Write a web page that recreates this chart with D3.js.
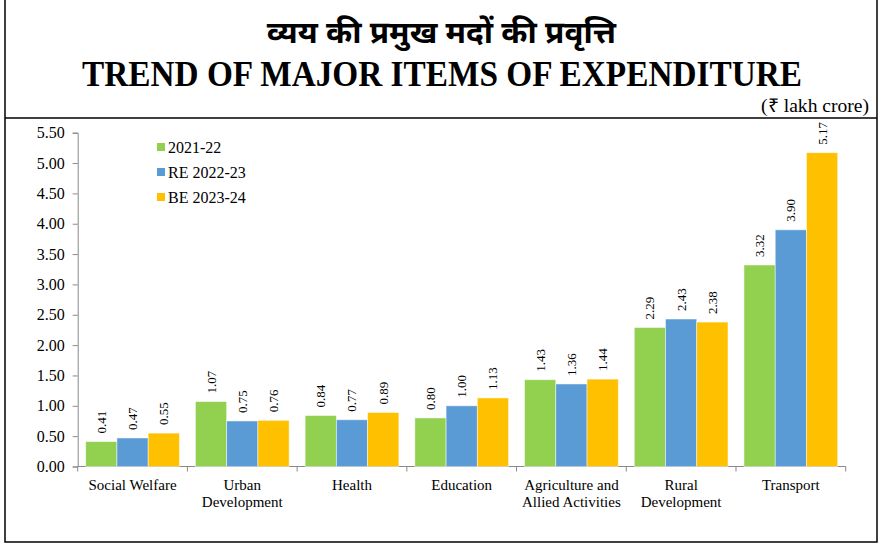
<!DOCTYPE html>
<html lang="en">
<head>
    <meta charset="UTF-8">
    <title>Trend of Major Items of Expenditure</title>
    <script src="https://d3js.org/d3.v7.min.js"></script>
    <style>
        body { margin: 0; background: #fff; }
        text { font-family: "Liberation Serif", "Times New Roman", serif; fill: #000; }
    </style>
</head>
<body>
    <div id="chart"></div>
    <script>
        // data
        const categories = [
            ['Social Welfare'],
            ['Urban', 'Development'],
            ['Health'],
            ['Education'],
            ['Agriculture and', 'Allied Activities'],
            ['Rural', 'Development'],
            ['Transport']
        ];
        const seriesNames = ['2021-22', 'RE 2022-23', 'BE 2023-24'];
        const values2021 = [0.41, 1.07, 0.84, 0.80, 1.43, 2.29, 3.32];
        const valuesRE2022 = [0.47, 0.75, 0.77, 1.00, 1.36, 2.43, 3.90];
        const valuesBE2023 = [0.55, 0.76, 0.89, 1.13, 1.44, 2.38, 5.17];
        const yTicks = [0, 0.5, 1, 1.5, 2, 2.5, 3, 3.5, 4, 4.5, 5, 5.5];
        const colors = ['#92D050', '#5B9BD5', '#FFC000'];

        const allSeries = [values2021, valuesRE2022, valuesBE2023];
        const catKeys = categories.map(c => c.join(' '));

        const width = 885, height = 549;
        const svg = d3.select('#chart').append('svg')
            .attr('width', width)
            .attr('height', height);

        // frame
        svg.append('rect')
            .attr('x', 5).attr('y', -2)
            .attr('width', 872).attr('height', 544)
            .attr('fill', 'none').attr('stroke', '#000').attr('stroke-width', 1.5);
        svg.append('line')
            .attr('x1', 5).attr('x2', 877).attr('y1', 118).attr('y2', 118)
            .attr('stroke', '#000').attr('stroke-width', 1.5);

        // titles
        svg.append('text')
            .attr('x', 267).attr('y', 43)
            .attr('textLength', 349)
            .attr('lengthAdjust', 'spacingAndGlyphs')
            .style('font-family', '"Noto Sans Devanagari", "Noto Sans", "Lohit Devanagari", sans-serif')
            .style('font-weight', 'bold')
            .style('font-size', '31px')
            .text('व्यय की प्रमुख मदों की प्रवृत्ति');
        svg.append('text')
            .attr('x', 82).attr('y', 86)
            .attr('textLength', 720)
            .attr('lengthAdjust', 'spacingAndGlyphs')
            .style('font-weight', 'bold')
            .style('font-size', '35px')
            .text('TREND OF MAJOR ITEMS OF EXPENDITURE');
        svg.append('text')
            .attr('x', 761).attr('y', 112)
            .attr('textLength', 108)
            .attr('lengthAdjust', 'spacingAndGlyphs')
            .style('font-size', '19px')
            .text('(₹ lakh crore)');

        const margin = { left: 77.7, right: 845.7, top: 132.7, bottom: 466.5 };

        const y = d3.scaleLinear().domain([0, 5.5]).range([margin.bottom, margin.top]);
        const x0 = d3.scaleBand().domain(catKeys).range([margin.left, margin.right]).padding(0);
        const x1 = d3.scaleBand().domain(seriesNames).range([8, x0.bandwidth() - 8]).padding(0);

        // y axis
        const yAxis = svg.append('g')
            .attr('transform', `translate(${margin.left},0)`)
            .call(d3.axisLeft(y).tickValues(yTicks).tickFormat(d3.format('.2f')).tickSize(5).tickPadding(8));
        yAxis.selectAll('line, path').attr('stroke', '#898989');
        yAxis.selectAll('text')
            .style('font-family', '"Liberation Serif", "Times New Roman", serif')
            .style('font-size', '16px')
            .attr('fill', '#000');

        // x axis with ticks between groups
        const xAxis = svg.append('g')
            .attr('transform', `translate(0,${margin.bottom})`);
        xAxis.append('line')
            .attr('x1', margin.left).attr('x2', margin.right)
            .attr('stroke', '#898989');
        xAxis.selectAll('.tick')
            .data(d3.range(catKeys.length + 1))
            .enter().append('line')
            .attr('x1', i => margin.left + i * x0.step())
            .attr('x2', i => margin.left + i * x0.step())
            .attr('y1', 0).attr('y2', 5)
            .attr('stroke', '#898989');

        // category labels
        const catLabel = svg.selectAll('.cat')
            .data(categories)
            .enter().append('text')
            .attr('class', 'cat')
            .attr('text-anchor', 'middle')
            .style('font-size', '15px')
            .attr('transform', (d, i) => `translate(${x0(catKeys[i]) + x0.bandwidth() / 2},${margin.bottom + 23})`);
        catLabel.selectAll('tspan')
            .data(d => d)
            .enter().append('tspan')
            .attr('x', 0)
            .attr('dy', (d, i) => i === 0 ? 0 : 17)
            .text(d => d);

        // bars
        const groups = svg.selectAll('.group')
            .data(catKeys)
            .enter().append('g')
            .attr('class', 'group')
            .attr('transform', d => `translate(${x0(d)},0)`);

        groups.selectAll('rect')
            .data((d, i) => seriesNames.map((s, j) => ({ s, j, v: allSeries[j][i] })))
            .enter().append('rect')
            .attr('x', d => x1(d.s))
            .attr('y', d => y(d.v))
            .attr('width', x1.bandwidth())
            .attr('height', d => y(0) - y(d.v))
            .attr('fill', d => colors[d.j])
            .attr('stroke', '#fff')
            .attr('stroke-opacity', 0.6)
            .attr('stroke-width', 0.8);

        // value labels, rotated
        groups.selectAll('.val')
            .data((d, i) => seriesNames.map((s, j) => ({ s, j, v: allSeries[j][i] })))
            .enter().append('text')
            .attr('class', 'val')
            .attr('transform', d => `translate(${x1(d.s) + x1.bandwidth() / 2 + 4.5},${y(d.v) - 8}) rotate(-90)`)
            .style('font-size', '13px')
            .text(d => d3.format('.2f')(d.v));

        // legend
        const legend = svg.selectAll('.legend')
            .data(seriesNames)
            .enter().append('g')
            .attr('class', 'legend')
            .attr('transform', (d, i) => `translate(157,${147 + i * 25})`);
        legend.append('rect')
            .attr('x', 0).attr('y', -4)
            .attr('width', 8).attr('height', 8)
            .attr('fill', (d, i) => colors[i]);
        legend.append('text')
            .attr('x', 11).attr('y', 5.5)
            .style('font-size', '16px')
            .text(d => d);
    </script>
</body>
</html>
